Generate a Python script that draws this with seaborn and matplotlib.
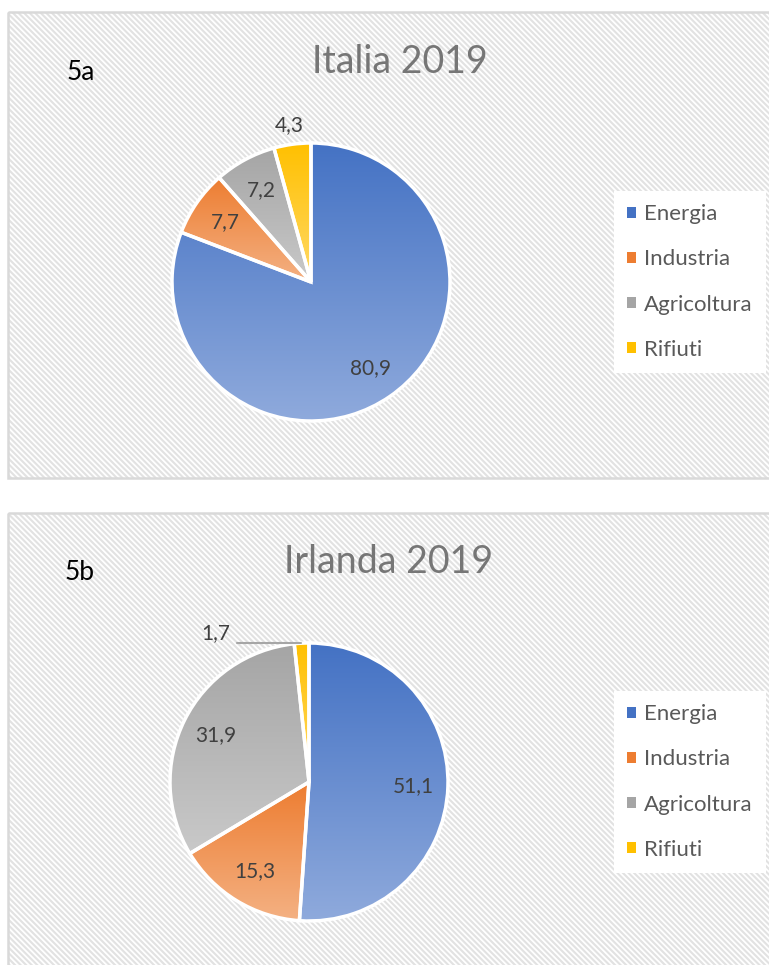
import numpy as np
import matplotlib
matplotlib.use("Agg")
import matplotlib.pyplot as plt
from matplotlib.colors import LinearSegmentedColormap
from matplotlib.patches import Rectangle, Patch
import seaborn as sns

# ---------------------------------------------------------------
# DATA
# ---------------------------------------------------------------
categories = ["Energia", "Industria", "Agricoltura", "Rifiuti"]
italia_2019 = [80.9, 7.7, 7.2, 4.3]
irlanda_2019 = [51.1, 15.3, 31.9, 1.7]
titles = ["Italia 2019", "Irlanda 2019"]
tags = ["5a", "5b"]

sns.set_style("white")
plt.rcParams["font.family"] = ["Lato", "DejaVu Sans"]
plt.rcParams["hatch.linewidth"] = 1.5

dark = sns.color_palette(["#4472C4", "#ED7D31", "#A5A5A5", "#FFC000"])
light = sns.color_palette(["#8FAADC", "#F4B183", "#C9C9C9", "#FFD966"])

W, H = 769, 965
fig = plt.figure(figsize=(W / 100, H / 100), dpi=100)
bg = fig.add_axes([0, 0, 1, 1])
bg.set_xlim(0, W)
bg.set_ylim(H, 0)
bg.axis("off")


def fmt(v):
    return f"{v:.1f}".replace(".", ",")


def draw_panel(top, bottom, title, tag, values, cx, cy, r, title_xy, tag_xy):
    # hatched panel background + border
    bg.add_patch(Rectangle((8, top), W, bottom - top, facecolor="white",
                           edgecolor="#e2e2e2", hatch="\\\\\\\\\\\\", lw=0))
    bg.add_patch(Rectangle((8, top), W, bottom - top, facecolor="none",
                           edgecolor="#d9d9d9", lw=1.8))
    bg.text(*title_xy, title, ha="center", va="center", fontsize=27, color="#767676")
    bg.text(*tag_xy, tag, ha="center", va="center", fontsize=19, color="black")

    pad = 4
    ax = fig.add_axes([(cx - r - pad) / W, 1 - (cy + r + pad) / H,
                       2 * (r + pad) / W, 2 * (r + pad) / H])
    wedges, _ = ax.pie(values, colors=dark, startangle=90, counterclock=False,
                       wedgeprops=dict(edgecolor="white", linewidth=2.5))
    grad = np.linspace(0, 1, 256).reshape(-1, 1)
    for w, c0, c1 in zip(wedges, dark, light):
        cmap = LinearSegmentedColormap.from_list("g", [c0, c1])
        bb = w.get_path().get_extents()
        im = ax.imshow(grad, cmap=cmap, extent=(bb.x0, bb.x1, bb.y0, bb.y1),
                       origin="upper", aspect="auto", zorder=1,
                       interpolation="bicubic")
        im.set_clip_path(w)
        w.set_facecolor("none")
        w.set_zorder(2)

    for v, w in zip(values, wedges):
        mid = np.deg2rad((w.theta1 + w.theta2) / 2)
        if v < 2:
            # tiny slice: label pulled out with a leader line
            ax.plot([-0.52, -0.06], [1.0, 1.0], color="#a6a6a6", lw=1.5,
                    clip_on=False, zorder=3)
            ax.text(-0.57, 1.07, fmt(v), ha="right", va="center",
                    fontsize=15, color="#404040")
            continue
        rr = 1.14 if v < 5 else 0.75
        ax.text(rr * np.cos(mid), rr * np.sin(mid), fmt(v), ha="center",
                va="center", fontsize=15, color="#404040", zorder=4)

    lim = 1 + pad / r
    ax.set_xlim(-lim, lim)
    ax.set_ylim(-lim, lim)
    ax.axis("off")

    handles = [Patch(facecolor=c, edgecolor="none") for c in dark]
    fig.legend(handles, categories, loc="center left",
               bbox_to_anchor=(603, cy), bbox_transform=bg.transData,
               frameon=True, facecolor="white", edgecolor="none", framealpha=1,
               fancybox=False, fontsize=16, labelcolor="#595959",
               handlelength=0.4, handleheight=0.4, handletextpad=0.35,
               labelspacing=1.13, borderpad=0.6)


draw_panel(12, 478, titles[0], tags[0], italia_2019, 311, 282, 139,
           (400, 62), (81, 72))
draw_panel(513, 975, titles[1], tags[1], irlanda_2019, 309, 782, 139,
           (389, 562), (80, 573))

fig.savefig("out.png", dpi=100)
